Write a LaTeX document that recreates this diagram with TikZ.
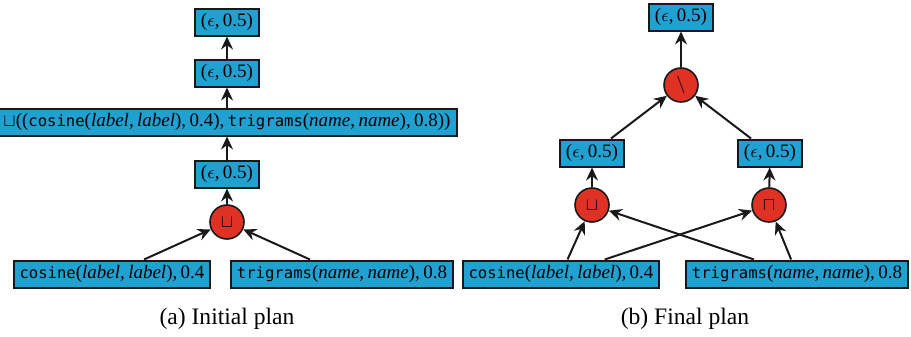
\documentclass[tikz,border=0pt]{standalone}
\usepackage{fontspec}
\setmainfont{Liberation Serif}
\setmonofont{DejaVu Sans Mono}[Scale=0.82]
\usetikzlibrary{arrows.meta}
\definecolor{boxblue}{RGB}{32,161,210}
\definecolor{opred}{RGB}{224,50,36}
\definecolor{edgek}{RGB}{25,25,25}
\tikzset{
  plan/.style={draw=edgek, line width=1pt, fill=boxblue, rectangle, inner xsep=3pt, inner ysep=0pt,
    minimum height=13.5pt, font=\fontsize{9.5}{11}\selectfont},
  opnode/.style={draw=edgek, line width=0.8pt, fill=opred, circle, inner sep=0pt, minimum size=17pt,
    font=\fontsize{9}{10}\selectfont},
  flow/.style={draw=edgek, line width=1pt, -{Stealth[length=6.5pt,width=6pt,inset=2.2pt]}},
  captext/.style={font=\fontsize{11.8}{14}\selectfont}
}
\newcommand{\cm}{,\kern1.7pt}
\newcommand{\eps}{(\ensuremath{\epsilon}\cm0.5)}
\begin{document}
\begin{tikzpicture}[x=0.5pt,y=-0.5pt]
\useasboundingbox (0,0) rectangle (911,337);
% ---- (a) Initial plan
\node[plan] (a1) at (227,22) {\eps};
\node[plan] (a2) at (227,73) {\eps};
\node[plan] (a3) at (227,122) {\ensuremath{\sqcup}((\texttt{cosine}(\textit{label}\cm\textit{label})\cm0.4)\cm\texttt{trigrams}(\textit{name}\cm\textit{name})\cm0.8))};
\node[plan] (a4) at (227,174) {\eps};
\node[opnode] (aop) at (227,222) {$\sqcup$};
\node[plan] (acos) at (112,274) {\texttt{cosine}(\textit{label}\cm\textit{label})\cm0.4};
\node[plan] (atri) at (342,274) {\texttt{trigrams}(\textit{name}\cm\textit{name})\cm0.8};
\draw[flow] (a2) -- (a1);
\draw[flow] (a3) -- (a2);
\draw[flow] (a4) -- (a3);
\draw[flow] (aop) -- (a4);
\draw[flow] (acos) -- (aop);
\draw[flow] (atri) -- (aop);
\node[captext] (capa) at (227,319) {(a) Initial plan};
% ---- (b) Final plan
\node[plan] (b1) at (681,17) {\eps};
\node[opnode] (bdiff) at (681,85) {$\setminus$};
\node[plan] (bl) at (592,153) {\eps};
\node[plan] (br) at (770,153) {\eps};
\node[opnode] (bcup) at (592,205) {$\sqcup$};
\node[opnode] (bcap) at (769,205) {$\sqcap$};
\node[plan] (bcos) at (561,274) {\texttt{cosine}(\textit{label}\cm\textit{label})\cm0.4};
\node[plan] (btri) at (797,274) {\texttt{trigrams}(\textit{name}\cm\textit{name})\cm0.8};
\draw[flow] (bdiff) -- (b1);
\draw[flow] (bl) -- (bdiff);
\draw[flow] (br) -- (bdiff);
\draw[flow] (bcup) -- (bl);
\draw[flow] (bcap) -- (br);
\draw[flow] (bcos) -- (bcup);
\draw[flow] (bcos) -- (bcap);
\draw[flow] (btri) -- (bcup);
\draw[flow] (btri) -- (bcap);
\node[captext] (capb) at (685,319) {(b) Final plan};
\end{tikzpicture}
\end{document}
